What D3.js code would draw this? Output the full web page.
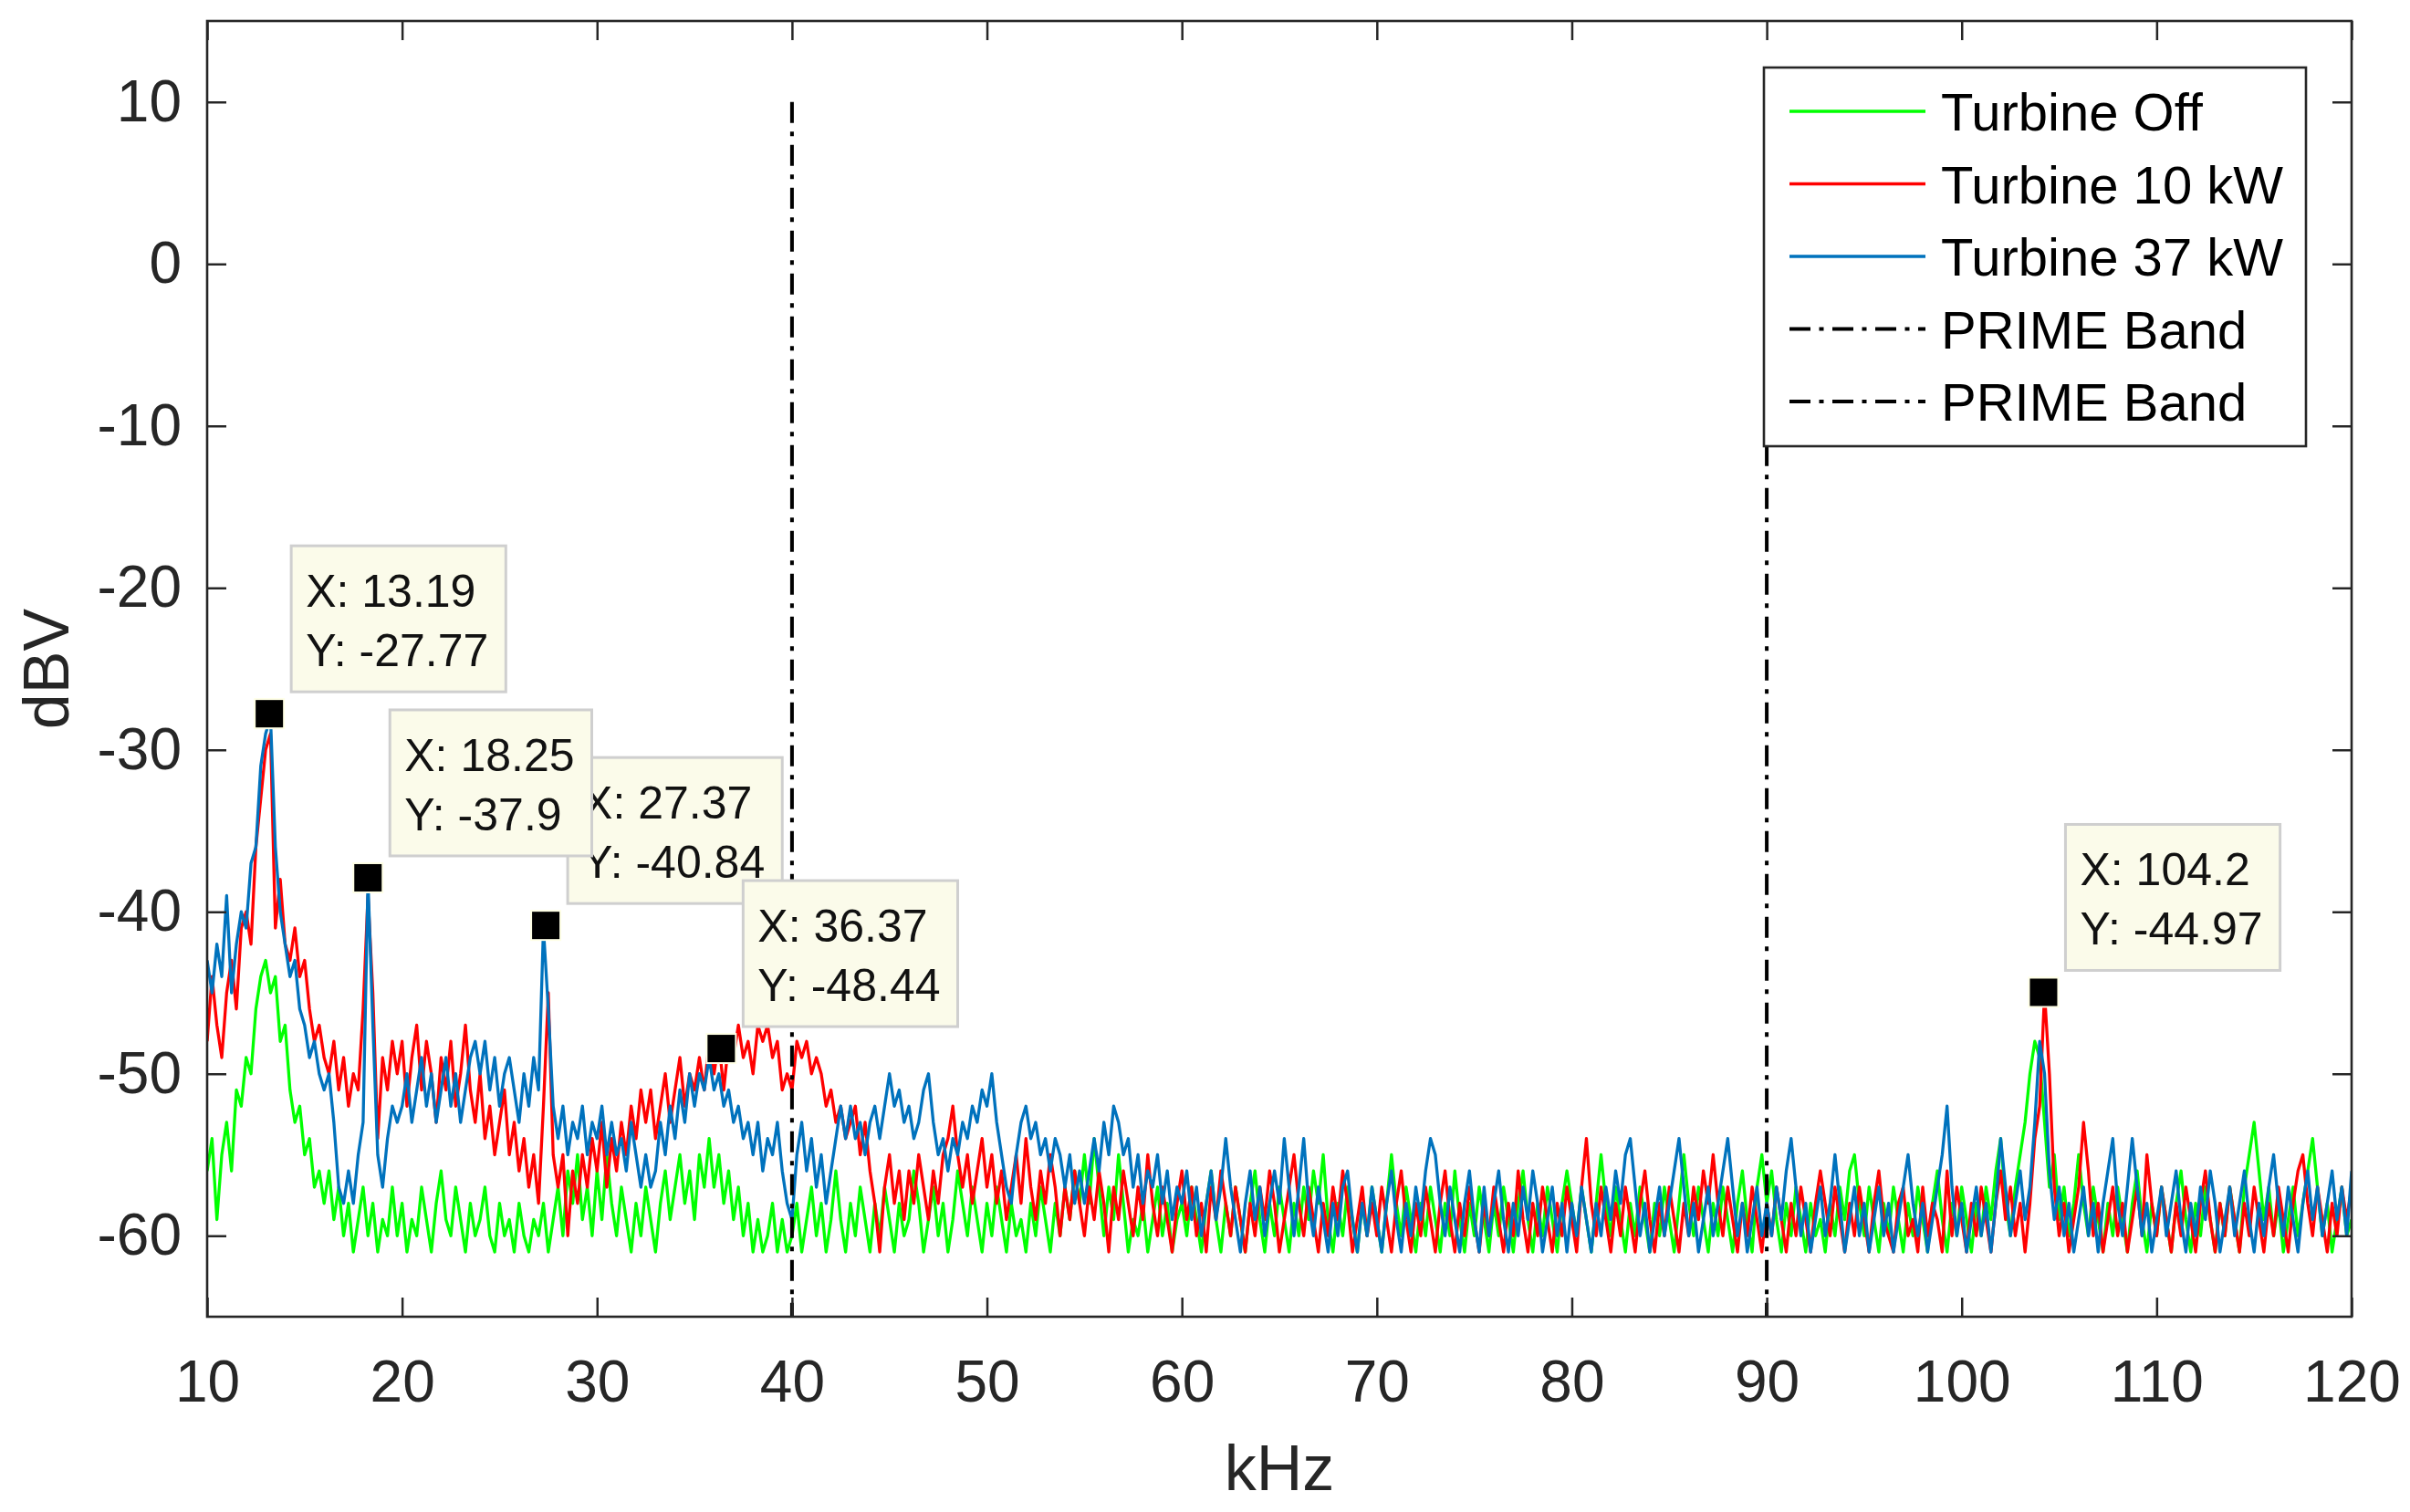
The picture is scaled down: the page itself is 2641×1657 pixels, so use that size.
<!DOCTYPE html>
<html>
<head>
<meta charset="utf-8">
<script src="https://cdn.jsdelivr.net/npm/d3@7"></script>
<style>
  body { margin: 0; background: #fff; }
  svg { display: block; font-family: "Liberation Sans", Arial, Helvetica, sans-serif; }
</style>
</head>
<body>
<div id="chart"></div>
<script>
// spectrum sampled every 0.25 kHz from 10 to 120 kHz (dBV)
const freqStart = 10;
const freqStep = 0.25;

const turbineOff = [
  -56,-54,-59,-55,-53,-56,-51,-52,-49,-50, -46,-44,-43,-45,-44,-48,-47,-51,-53,-52, -55,-54,-57,-56,-58,-56,-59,-57,-60,-58, -61,-59,-57,-60,-58,-61,-59,-60,-57,-60,
  -58,-61,-59,-60,-57,-59,-61,-58,-56,-59, -60,-57,-59,-61,-58,-60,-59,-57,-60,-61, -58,-60,-59,-61,-58,-60,-61,-59,-60,-58, -61,-59,-57,-60,-56,-58,-55,-59,-57,-60,
  -56,-59,-55,-58,-60,-57,-59,-61,-58,-60, -57,-59,-61,-58,-56,-59,-57,-55,-58,-56, -59,-55,-57,-54,-57,-55,-58,-56,-59,-57, -60,-58,-61,-59,-61,-60,-58,-61,-59,-61,
  -60,-58,-61,-59,-57,-60,-58,-61,-59,-56, -59,-61,-58,-60,-57,-59,-61,-58,-60,-57, -59,-61,-58,-60,-59,-56,-58,-61,-59,-57, -60,-58,-61,-59,-56,-58,-60,-57,-59,-61,
  -58,-60,-57,-59,-61,-58,-60,-59,-61,-58, -60,-57,-59,-61,-58,-60,-57,-59,-56,-58, -55,-58,-54,-57,-60,-57,-59,-55,-58,-61, -59,-60,-58,-61,-59,-57,-60,-58,-61,-59,
  -58,-60,-57,-59,-61,-58,-56,-59,-61,-58, -60,-57,-59,-61,-58,-56,-59,-61,-58,-60, -57,-59,-61,-58,-60,-57,-59,-56,-58,-55, -59,-61,-58,-60,-57,-59,-61,-58,-60,-57,
  -59,-61,-58,-55,-58,-60,-57,-59,-61,-58, -60,-57,-59,-61,-58,-60,-56,-59,-61,-58, -60,-57,-59,-61,-58,-60,-57,-59,-61,-58, -56,-59,-61,-58,-60,-57,-59,-61,-58,-56,
  -58,-60,-57,-59,-61,-58,-55,-58,-60,-57, -59,-61,-58,-60,-57,-59,-61,-58,-60,-57, -59,-61,-58,-55,-58,-60,-57,-59,-61,-58, -60,-57,-59,-61,-58,-56,-59,-61,-57,-55,
  -58,-56,-59,-61,-58,-60,-57,-59,-61,-58, -60,-59,-61,-58,-60,-57,-59,-56,-55,-58, -60,-57,-59,-61,-58,-60,-57,-59,-61,-58, -60,-57,-59,-61,-58,-56,-59,-61,-58,-60,
  -57,-59,-61,-58,-60,-57,-59,-56,-54,-58, -60,-57,-55,-53,-50,-48,-49,-53,-57,-55, -59,-57,-60,-58,-55,-58,-60,-57,-59,-61, -58,-60,-57,-59,-61,-58,-56,-59,-61,-58,
  -60,-57,-59,-61,-58,-56,-59,-61,-58,-60, -57,-59,-61,-58,-60,-57,-59,-61,-57,-55, -53,-56,-59,-57,-60,-58,-61,-59,-57,-60, -58,-56,-54,-57,-60,-58,-61,-59,-57,-60, -59
];

const turbine10 = [
  -48,-44,-47,-49,-45,-43,-46,-41,-40,-42, -36,-33,-30,-29,-41,-38,-42,-43,-41,-44, -43,-46,-48,-47,-49,-50,-48,-51,-49,-52, -50,-51,-46,-39,-45,-54,-49,-51,-48,-50,
  -48,-52,-49,-47,-51,-48,-50,-53,-49,-51, -48,-52,-50,-47,-51,-53,-50,-54,-52,-55, -53,-51,-55,-53,-56,-54,-57,-55,-58,-52, -45,-55,-57,-55,-60,-56,-58,-55,-57,-54,
  -56,-53,-57,-54,-56,-53,-55,-52,-54,-51, -53,-51,-54,-52,-50,-53,-51,-49,-52,-50, -51,-49,-51,-48,-50,-48,-51,-48,-49,-47, -49,-48,-50,-47,-48,-47,-49,-48,-51,-50,
  -51,-48,-49,-48,-50,-49,-50,-52,-51,-53, -52,-54,-53,-52,-55,-53,-56,-58,-61,-57, -55,-58,-56,-59,-56,-58,-55,-57,-59,-56, -58,-55,-54,-52,-55,-57,-55,-58,-56,-54,
  -57,-55,-58,-56,-59,-57,-55,-58,-54,-57, -59,-56,-58,-55,-57,-60,-57,-59,-56,-58, -60,-57,-59,-56,-58,-61,-57,-59,-56,-58, -60,-57,-59,-55,-58,-60,-57,-59,-61,-58,
  -56,-59,-57,-60,-58,-61,-57,-59,-56,-58, -60,-57,-59,-61,-58,-60,-57,-59,-56,-58, -61,-59,-57,-55,-58,-60,-57,-59,-61,-58, -60,-57,-59,-56,-58,-61,-59,-57,-60,-58,
  -60,-57,-59,-61,-58,-56,-59,-61,-58,-60, -57,-59,-61,-58,-56,-59,-61,-58,-60,-57, -59,-61,-58,-60,-57,-59,-61,-58,-60,-56, -59,-61,-58,-60,-57,-59,-61,-58,-60,-57,
  -59,-61,-57,-54,-58,-60,-57,-59,-61,-58, -60,-57,-59,-61,-58,-56,-59,-61,-58,-60, -57,-59,-61,-58,-60,-57,-59,-56,-58,-55, -58,-60,-57,-59,-61,-58,-60,-57,-59,-61,
  -58,-60,-57,-59,-61,-58,-60,-57,-59,-61, -58,-56,-58,-60,-57,-59,-61,-58,-60,-57, -59,-61,-58,-56,-59,-60,-61,-58,-57,-60, -59,-61,-57,-60,-58,-59,-61,-56,-60,-57,
  -59,-61,-58,-60,-57,-59,-61,-58,-56,-59, -57,-60,-58,-61,-58,-54,-52,-45,-50,-57, -60,-58,-61,-59,-57,-53,-56,-60,-58,-61, -59,-57,-60,-58,-61,-59,-57,-60,-55,-58,
  -60,-57,-59,-61,-58,-60,-57,-59,-61,-58, -56,-59,-61,-58,-60,-57,-59,-61,-58,-60, -57,-59,-61,-58,-60,-57,-59,-61,-58,-56, -55,-58,-60,-57,-59,-61,-58,-60,-57,-59, -57
];

const turbine37 = [
  -43,-45,-42,-44,-39,-45,-42,-40,-41,-37, -36,-31,-29,-28,-36,-40,-42,-44,-43,-46, -47,-49,-48,-50,-51,-50,-53,-57,-58,-56, -58,-55,-53,-38,-47,-55,-57,-54,-52,-53,
  -52,-50,-53,-51,-49,-52,-50,-53,-51,-49, -52,-50,-53,-51,-49,-48,-50,-48,-51,-49, -52,-50,-49,-51,-53,-50,-52,-49,-51,-41, -46,-52,-54,-52,-55,-53,-54,-52,-55,-53,
  -54,-52,-55,-53,-55,-54,-56,-53,-55,-57, -55,-57,-56,-53,-55,-52,-54,-51,-53,-50, -52,-50,-51,-49,-51,-50,-52,-51,-53,-52, -54,-53,-55,-53,-56,-54,-55,-53,-56,-58,
  -59,-55,-53,-56,-54,-57,-55,-58,-56,-54, -52,-54,-52,-54,-53,-55,-53,-52,-54,-52, -50,-52,-51,-53,-52,-54,-53,-51,-50,-53, -55,-54,-56,-54,-55,-53,-54,-52,-53,-51,
  -52,-50,-53,-55,-57,-58,-55,-53,-52,-54, -53,-55,-54,-56,-54,-55,-57,-55,-58,-56, -58,-56,-54,-56,-53,-55,-52,-53,-55,-54, -57,-55,-58,-56,-57,-55,-58,-56,-59,-57,
  -58,-56,-59,-57,-60,-58,-56,-59,-57,-54, -57,-59,-61,-58,-56,-59,-57,-60,-58,-56, -58,-54,-57,-60,-57,-54,-58,-60,-57,-59, -61,-58,-60,-57,-56,-59,-61,-58,-60,-57,
  -59,-61,-58,-56,-59,-61,-58,-60,-57,-59, -56,-54,-55,-58,-60,-57,-59,-61,-58,-56, -59,-61,-57,-60,-58,-56,-59,-61,-58,-60, -57,-59,-56,-58,-61,-59,-57,-60,-58,-61,
  -58,-60,-57,-59,-61,-58,-60,-57,-59,-56, -58,-55,-54,-57,-60,-58,-61,-59,-57,-60, -58,-56,-54,-57,-60,-58,-61,-59,-57,-60, -58,-56,-54,-57,-60,-58,-61,-59,-57,-60,
  -58,-60,-57,-59,-56,-54,-57,-60,-58,-61, -59,-57,-60,-58,-55,-58,-61,-59,-57,-60, -58,-61,-59,-57,-60,-58,-61,-59,-57,-55, -58,-60,-58,-61,-59,-57,-55,-52,-57,-60,
  -58,-61,-59,-57,-60,-58,-61,-58,-54,-57, -60,-58,-56,-59,-57,-53,-48,-50,-56,-59, -57,-60,-58,-61,-59,-57,-60,-58,-61,-58, -56,-54,-58,-60,-57,-54,-57,-60,-58,-61,
  -59,-57,-60,-58,-56,-59,-61,-58,-60,-57, -59,-56,-58,-61,-59,-57,-60,-58,-56,-59, -61,-58,-60,-57,-55,-58,-60,-57,-59,-61, -58,-56,-59,-57,-60,-58,-56,-59,-57,-60, -56
];

const seriesNames = ["Turbine Off", "Turbine 10 kW", "Turbine 37 kW"];
const seriesColors = ["#00FF00", "#FF0000", "#0072BD"];
const bandEdges = [40, 90];           // PRIME band limits, kHz
const bandTop = 10, bandBottom = -65; // extent of the band lines, dBV
const xTicks = [10, 20, 30, 40, 50, 60, 70, 80, 90, 100, 110, 120];
const yTicks = [-60, -50, -40, -30, -20, -10, 0, 10];
const tipX = [13.19, 27.37, 18.25, 36.37, 104.2];
const tipY = [-27.77, -40.84, -37.9, -48.44, -44.97];

const width = 2641, height = 1657;
const margin = { top: 23, right: 64, bottom: 214, left: 227 };
const innerW = width - margin.left - margin.right;
const innerH = height - margin.top - margin.bottom;
const axisColor = "#262626";

const svg = d3.select("#chart").append("svg")
  .attr("width", width)
  .attr("height", height);

svg.append("rect").attr("width", width).attr("height", height).attr("fill", "#fff");

const g = svg.append("g")
  .attr("transform", `translate(${margin.left},${margin.top})`);

const x = d3.scaleLinear().domain([10, 120]).range([0, innerW]);
const y = d3.scaleLinear().domain([-65, 15]).range([innerH, 0]);

g.append("clipPath").attr("id", "plotClip")
  .append("rect").attr("width", innerW).attr("height", innerH);

// traces
const traces = [turbineOff, turbine10, turbine37];
const line = d3.line()
  .x((d, i) => x(freqStart + i * freqStep))
  .y(d => y(d));

const plot = g.append("g").attr("clip-path", "url(#plotClip)");
traces.forEach((vals, k) => {
  plot.append("path")
    .datum(vals)
    .attr("fill", "none")
    .attr("stroke", seriesColors[k])
    .attr("stroke-width", 3.3)
    .attr("stroke-linejoin", "round")
    .attr("d", line);
});

// PRIME band limits
const dashDot = "23,9.5,5,9.5";
plot.selectAll(".band")
  .data(bandEdges)
  .enter().append("line")
  .attr("class", "band")
  .attr("x1", d => x(d)).attr("x2", d => x(d))
  .attr("y1", y(bandTop)).attr("y2", y(bandBottom))
  .attr("stroke", "#000")
  .attr("stroke-width", 4)
  .attr("stroke-dasharray", dashDot);

// axes (MATLAB box with inward ticks)
const tickLen = 21;
function styleAxis(sel) {
  sel.select(".domain").remove();
  sel.selectAll(".tick line").attr("stroke", axisColor).attr("stroke-width", 2.5);
  sel.selectAll(".tick text").attr("fill", axisColor).style("font-size", "64px");
}

g.append("g")
  .attr("transform", `translate(0,${innerH})`)
  .call(d3.axisBottom(x).tickValues(xTicks).tickSizeInner(-tickLen).tickSizeOuter(0)
    .tickPadding(48).tickFormat(d => String(d)))
  .call(styleAxis);
g.append("g")
  .call(d3.axisTop(x).tickValues(xTicks).tickSizeInner(-tickLen).tickSizeOuter(0).tickFormat(""))
  .call(styleAxis);
g.append("g")
  .call(d3.axisLeft(y).tickValues(yTicks).tickSizeInner(-tickLen).tickSizeOuter(0)
    .tickPadding(28).tickFormat(d => String(d)))
  .call(styleAxis);
g.append("g")
  .attr("transform", `translate(${innerW},0)`)
  .call(d3.axisRight(y).tickValues(yTicks).tickSizeInner(-tickLen).tickSizeOuter(0).tickFormat(""))
  .call(styleAxis);

g.append("rect")
  .attr("width", innerW).attr("height", innerH)
  .attr("fill", "none")
  .attr("stroke", axisColor)
  .attr("stroke-width", 2.6);

// axis labels
svg.append("text")
  .attr("x", margin.left + innerW / 2)
  .attr("y", 1633)
  .attr("text-anchor", "middle")
  .attr("fill", axisColor)
  .style("font-size", "70px")
  .text("kHz");

svg.append("text")
  .attr("transform", `translate(75,${margin.top + innerH / 2}) rotate(-90)`)
  .attr("text-anchor", "middle")
  .attr("fill", axisColor)
  .style("font-size", "70px")
  .text("dBV");

// data tips
const tips = tipX.map((v, i) => ({ x: v, y: tipY[i] }));
const tipLayer = g.append("g");
tipLayer.selectAll(".marker")
  .data(tips)
  .enter().append("rect")
  .attr("class", "marker")
  .attr("x", d => x(d.x) - 16).attr("y", d => y(d.y) - 16)
  .attr("width", 32).attr("height", 32)
  .attr("fill", "#000")
  .attr("stroke", "#FFFFE6")
  .attr("stroke-width", 2);

tips.forEach(d => {
  const left = x(d.x) + 24;
  const bottom = y(d.y) - 24;
  const top = bottom - 160;
  const box = tipLayer.append("g");
  const rect = box.append("rect")
    .attr("x", left).attr("y", top)
    .attr("height", 160)
    .attr("fill", "#FBFBEA")
    .attr("stroke", "#CFCFCF")
    .attr("stroke-width", 3);
  const t1 = box.append("text")
    .attr("x", left + 16).attr("y", top + 67)
    .style("font-size", "50px").attr("fill", "#111")
    .text("X: " + d.x);
  const t2 = box.append("text")
    .attr("x", left + 16).attr("y", top + 132)
    .style("font-size", "50px").attr("fill", "#111")
    .text("Y: " + d.y);
  const w = Math.max(t1.node().getComputedTextLength(), t2.node().getComputedTextLength());
  rect.attr("width", w + 35);
});

// legend
const legendX = 1933 - margin.left, legendY = 74 - margin.top;
const legend = g.append("g").attr("transform", `translate(${legendX},${legendY})`);
legend.append("rect")
  .attr("width", 594).attr("height", 415)
  .attr("fill", "#fff")
  .attr("stroke", axisColor)
  .attr("stroke-width", 2.6);

const legendItems = seriesNames.map((n, i) => ({ name: n, color: seriesColors[i], dash: null }))
  .concat(bandEdges.map(() => ({ name: "PRIME Band", color: "#000", dash: dashDot })));

const rows = legend.selectAll(".item")
  .data(legendItems)
  .enter().append("g")
  .attr("class", "item")
  .attr("transform", (d, i) => `translate(0,${48 + i * 79.5})`);

rows.append("line")
  .attr("x1", 28).attr("x2", 177)
  .attr("stroke", d => d.color)
  .attr("stroke-width", d => d.dash ? 4 : 3.3)
  .attr("stroke-dasharray", d => d.dash);

rows.append("text")
  .attr("x", 194).attr("y", 21)
  .attr("fill", "#000")
  .style("font-size", "58px")
  .text(d => d.name);
</script>
</body>
</html>
